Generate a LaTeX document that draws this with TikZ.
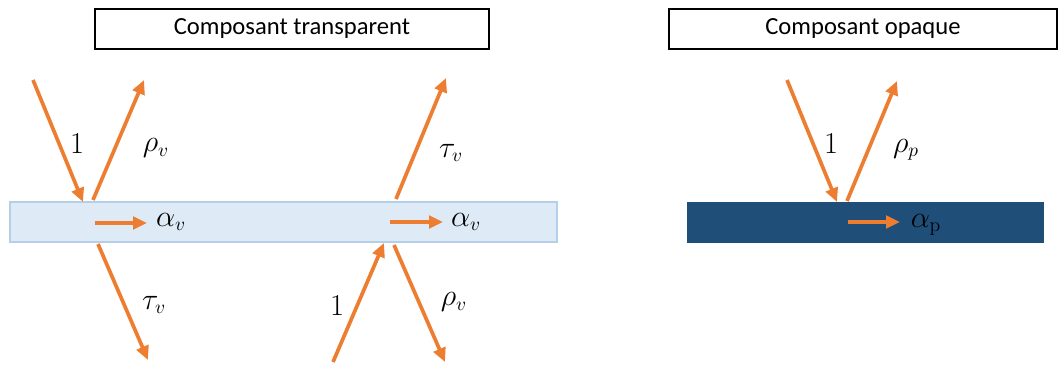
\documentclass[tikz,border=0pt]{standalone}
\usepackage{fontspec}
\setsansfont{Carlito}
\usepackage{xcolor}
\usetikzlibrary{arrows.meta}

\definecolor{ray}{HTML}{ED7D31}
\definecolor{glassfill}{HTML}{DEEBF7}
\definecolor{glassline}{HTML}{B4CFEA}
\definecolor{wall}{HTML}{1F4E79}

\begin{document}
\begin{tikzpicture}[
      x=0.02cm, y=-0.02cm,
      font=\sffamily,
      title/.style={draw, line width=0.7pt, minimum height=0.8cm,
                    inner sep=0pt, font=\fontsize{14}{16}\selectfont\sffamily},
      flow/.style={-{Triangle[length=2.8mm, width=2.5mm]}, line width=2.1pt, ray},
      lbl/.style={font=\fontsize{16}{18}\selectfont},
    ]
    \useasboundingbox (0,0) rectangle (1059,365);

    % headers
    \node[title, minimum width=7.88cm] (hdtr) at (292,29) {Composant transparent};
    \node[title, minimum width=7.76cm] (hdop) at (863,29) {Composant opaque};

    % layers
    \draw[glassline, fill=glassfill, line width=0.6pt] (10,202) rectangle (557,242);
    \fill[wall] (687,202) rectangle (1044,243);

    % transparent, light from above
    \coordinate (srcA) at (33,80);
    \coordinate (hitA) at (83,202);
    \coordinate (outA) at (93,200);
    \coordinate (refA) at (144,80);
    \coordinate (absA) at (95,223);
    \coordinate (absAe) at (147,223);
    \coordinate (insA) at (98,244);
    \coordinate (traA) at (148,360);
    \draw[flow] (srcA) -- (hitA);
    \draw[flow] (outA) -- (refA);
    \draw[flow] (absA) -- (absAe);
    \draw[flow] (insA) -- (traA);
    \node[lbl] (oneA) at (77,144) {$1$};
    \node[lbl] (rhoA) at (156,148) {$\rho_v$};
    \node[lbl] (alpA) at (171,222) {$\alpha_v$};
    \node[lbl] (tauA) at (154,305) {$\tau_v$};

    % transparent, light from below
    \coordinate (srcB) at (333,362);
    \coordinate (hitB) at (384,243);
    \coordinate (outB) at (394,245);
    \coordinate (refB) at (445,362);
    \coordinate (absB) at (390,222);
    \coordinate (absBe) at (443,222);
    \coordinate (insB) at (396,199);
    \coordinate (traB) at (446,78);
    \draw[flow] (srcB) -- (hitB);
    \draw[flow] (outB) -- (refB);
    \draw[flow] (absB) -- (absBe);
    \draw[flow] (insB) -- (traB);
    \node[lbl] (oneB) at (337,306) {$1$};
    \node[lbl] (rhoB) at (454,302) {$\rho_v$};
    \node[lbl] (alpB) at (466,222) {$\alpha_v$};
    \node[lbl] (tauB) at (451,153) {$\tau_v$};

    % opaque
    \coordinate (srcC) at (787,80);
    \coordinate (hitC) at (837,202);
    \coordinate (outC) at (847,201);
    \coordinate (refC) at (897,81);
    \coordinate (absC) at (848,222);
    \coordinate (absCe) at (900,222);
    \draw[flow] (srcC) -- (hitC);
    \draw[flow] (outC) -- (refC);
    \draw[flow] (absC) -- (absCe);
    \node[lbl] (oneC) at (831,144) {$1$};
    \node[lbl] (rhoC) at (906,150) {$\rho_p$};
    \node[lbl] (alpC) at (926,225) {$\alpha_{\mathrm{p}}$};
  \end{tikzpicture}
\end{document}
